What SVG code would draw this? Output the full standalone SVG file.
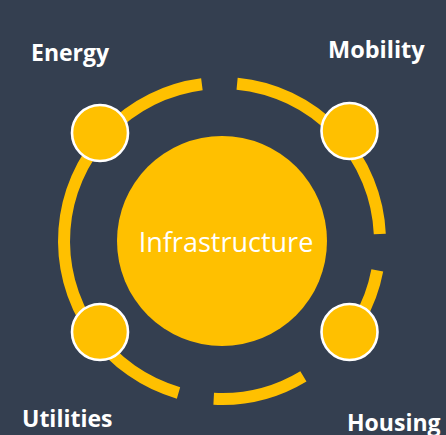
<svg xmlns="http://www.w3.org/2000/svg" width="446" height="435" viewBox="0 0 446 435">
<style>
.ring{fill:none;stroke:#FFC000;stroke-width:12;stroke-linecap:butt}
.node{fill:#FFC000;stroke:#FFFFFF;stroke-width:2.6}
.lbl{font-family:"Open Sans","Liberation Sans",sans-serif;font-weight:bold;fill:#FFFFFF}
</style>
<rect width="446" height="435" fill="#343F50"/>
<g id="connectors">
<path class="ring" d="M201.9,84.3 A158,158 0 0 0 178.5,392.9"/>
<path class="ring" d="M237.1,83.7 A158,158 0 0 1 379.8,234.1"/>
<path class="ring" d="M377.3,270.3 A158,158 0 0 1 358.8,320"/>
<path class="ring" d="M303.4,376.4 A158,158 0 0 1 213.7,398.8"/>
</g>
<g id="infrastructure">
<circle cx="222" cy="241" r="105" fill="#FFC000"/>
<text x="226" y="252" text-anchor="middle" font-family="'Open Sans','Liberation Sans',sans-serif" font-size="27" fill="#FFFFFF">Infrastructure</text>
</g>
<g id="energy">
<circle class="node" cx="100" cy="133" r="28"/>
<text class="lbl" x="31" y="61" font-size="23">Energy</text>
</g>
<g id="mobility">
<circle class="node" cx="349.5" cy="131" r="28"/>
<text class="lbl" x="328" y="58" font-size="23.5">Mobility</text>
</g>
<g id="utilities">
<circle class="node" cx="100" cy="332" r="28"/>
<text class="lbl" x="22" y="427" font-size="23">Utilities</text>
</g>
<g id="housing">
<circle class="node" cx="349.5" cy="332" r="28"/>
<text class="lbl" x="347" y="431" font-size="23">Housing</text>
</g>
</svg>
